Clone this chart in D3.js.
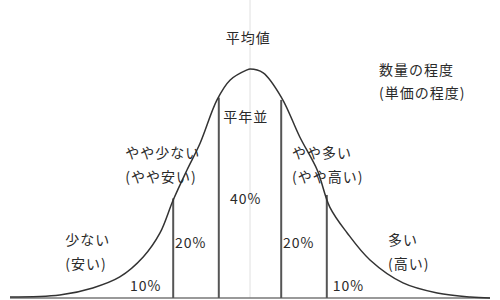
<!DOCTYPE html>
<html>
<head>
<meta charset="utf-8">
<script src="https://cdn.jsdelivr.net/npm/d3@7"></script>
<style>
  body { margin: 0; background: #fff; }
  text { font-family: "Noto Sans CJK JP", "Noto Sans", sans-serif; fill: #2a2a2a; }
</style>
</head>
<body>
<div id="chart"></div>
<script>
// curve (x in sigma units, relative height 0-100)
var curveX = [-4.0, -3.17, -2.62, -2.17, -1.78, -1.5, -1.28, -1.05, -0.83, -0.55, -0.33, -0.05, 0,
              0.22, 0.53, 0.83, 1.12, 1.33, 1.62, 2.0, 2.55, 3.12, 3.67, 4.0];
var curveY = [0.4, 1.3, 4.4, 9.2, 17.9, 28.4, 42.8, 55.9, 67.7, 86.5, 95.2, 99.6, 100,
              98.3, 87.3, 70.3, 55.9, 39.7, 28.4, 16.6, 6.6, 2.2, 0.4, 0];

// band boundaries and the heights of their lines
var bounds = [-1.28, -0.52, 0.52, 1.28];
var boundTop = [43.5, 87.5, 86.5, 45];

var shares = ["10%", "20%", "40%", "20%", "10%"];
var bandNames = [["少ない", "(安い)"], ["やや少ない", "(やや安い)"], ["平年並"],
                 ["やや多い", "(やや高い)"], ["多い", "(高い)"]];
var meanLabel = "平均値";
var noteLines = ["数量の程度", "(単価の程度)"];

var width = 500, height = 300;

var svg = d3.select("#chart")
  .append("svg")
    .attr("width", width)
    .attr("height", height);

var x = d3.scaleLinear().domain([-4, 4]).range([10, 490]);
var y = d3.scaleLinear().domain([0, 100]).range([298, 69]);

// faint mean line
svg.append("line")
  .attr("x1", x(0)).attr("x2", x(0))
  .attr("y1", 0).attr("y2", y(0))
  .attr("stroke", "#e0e0e0")
  .attr("stroke-width", 1);

// baseline
svg.append("line")
  .attr("x1", x(-4)).attr("x2", x(4))
  .attr("y1", y(0)).attr("y2", y(0))
  .attr("stroke", "#777")
  .attr("stroke-width", 1.5);

// band boundaries
svg.selectAll("line.bound")
  .data(bounds)
  .enter()
  .append("line")
    .attr("class", "bound")
    .attr("x1", function(d) { return x(d); })
    .attr("x2", function(d) { return x(d); })
    .attr("y1", y(0))
    .attr("y2", function(d, i) { return y(boundTop[i]); })
    .attr("stroke", "#555")
    .attr("stroke-width", 2);

// the curve
var pts = curveX.map(function(d, i) { return [d, curveY[i]]; });
svg.append("path")
  .datum(pts)
  .attr("fill", "none")
  .attr("stroke", "#333")
  .attr("stroke-width", 1.5)
  .attr("d", d3.line()
    .x(function(d) { return x(d[0]); })
    .y(function(d) { return y(d[1]); })
    .curve(d3.curveCatmullRom.alpha(0.5)));

function label(txt, px, py, anchor) {
  svg.append("text")
    .attr("x", px).attr("y", py)
    .attr("text-anchor", anchor || "start")
    .attr("font-size", 14)
    .attr("letter-spacing", 1)
    .text(txt);
}

// percentages: [x in sigma units, height]
var sharePos = [[-2.0, 3], [-1.25, 22], [-0.07, 41], [0.55, 22], [1.38, 3]];
shares.forEach(function(s, i) {
  label(s, x(sharePos[i][0]), y(sharePos[i][1]), i === 2 ? "middle" : "start");
});

// band names
var namePos = [[-3.08, 23], [-2.08, 61], [-0.07, 77], [0.7, 61], [2.3, 23]];
bandNames.forEach(function(lines, i) {
  lines.forEach(function(t, j) {
    label(t, x(namePos[i][0]), y(namePos[i][1]) + j * 24, i === 2 ? "middle" : "start");
  });
});

label(meanLabel, x(-0.03), 43, "middle");
noteLines.forEach(function(t, j) {
  label(t, 379, 75 + j * 23);
});
</script>
</body>
</html>
